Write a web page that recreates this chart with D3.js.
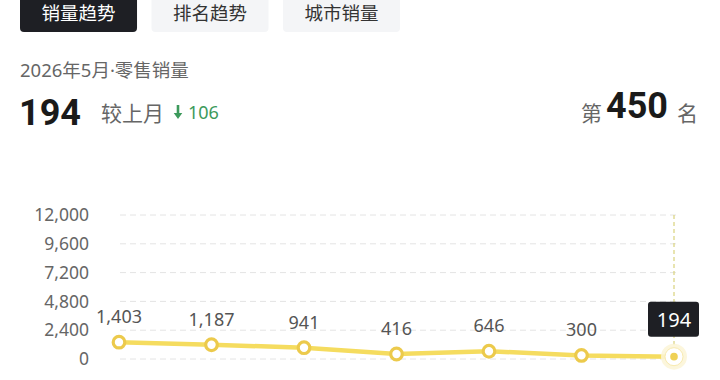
<!DOCTYPE html>
<html>
<head>
<meta charset="utf-8">
<script src="https://cdn.jsdelivr.net/npm/d3@7"></script>
<style>
  body { margin: 0; background: #fff; font-family: "Noto Sans CJK SC", "Noto Sans", sans-serif; }
</style>
</head>
<body>
<svg id="chart" width="720" height="380"></svg>
<script>
const tabs = ["销量趋势", "排名趋势", "城市销量"];
const months = ["2025-11", "2025-12", "2026-01", "2026-02", "2026-03", "2026-04", "2026-05"];
const sales = [1403, 1187, 941, 416, 646, 300, 194];
const yTicks = [0, 2400, 4800, 7200, 9600, 12000];
const subtitle = "2026年5月·零售销量";
const current = 194;
const change = 106;
const rank = 450;

const svg = d3.select("#chart");
const fontCJK = "Noto Sans CJK SC";

// tabs
const tabX = d3.scaleBand().domain(tabs).range([20, 400]).paddingInner(0.11);
const tab = svg.selectAll(".tab")
    .data(tabs)
    .enter().append("g")
    .attr("transform", d => "translate(" + tabX(d) + ",0)");
tab.append("rect")
    .attr("y", -6)
    .attr("width", tabX.bandwidth())
    .attr("height", 38)
    .attr("rx", 4)
    .attr("fill", (d, i) => i === 0 ? "#1e1f24" : "#f4f5f7");
tab.append("text")
    .attr("x", tabX.bandwidth() / 2)
    .attr("y", 20)
    .attr("text-anchor", "middle")
    .attr("font-family", fontCJK)
    .attr("font-size", 18.5)
    .attr("fill", (d, i) => i === 0 ? "#fff" : "#333")
    .text(d => d);

// header
svg.append("text")
    .attr("x", 20).attr("y", 77)
    .attr("font-family", "'Noto Sans', 'Noto Sans CJK SC'").attr("font-size", 18.5).attr("fill", "#666")
    .text(subtitle);

svg.append("text")
    .attr("x", 19).attr("y", 125)
    .attr("font-family", "Roboto").attr("font-weight", 700).attr("font-size", 36).attr("fill", "#1a1a1a")
    .text(current);

svg.append("text")
    .attr("x", 101).attr("y", 121)
    .attr("font-family", fontCJK).attr("font-size", 21).attr("fill", "#666")
    .text("较上月");

// down arrow
const ax = 178, ay = 105;
svg.append("path")
    .attr("d", `M${ax - 1.3},${ay} h2.6 v8 h3 l-4.3,6 l-4.3,-6 h3 z`)
    .attr("fill", "#3d9a5c");
svg.append("text")
    .attr("x", 188).attr("y", 119)
    .attr("font-family", "Noto Sans").attr("font-size", 18).attr("fill", "#3d9a5c")
    .text(change);

svg.append("text")
    .attr("x", 581).attr("y", 121)
    .attr("font-family", fontCJK).attr("font-size", 21).attr("fill", "#666")
    .text("第");
svg.append("text")
    .attr("x", 606).attr("y", 118)
    .attr("font-family", "Roboto").attr("font-weight", 700).attr("font-size", 36).attr("fill", "#1a1a1a")
    .text(rank);
svg.append("text")
    .attr("x", 677).attr("y", 121)
    .attr("font-family", fontCJK).attr("font-size", 21).attr("fill", "#666")
    .text("名");

// chart
const x = d3.scalePoint().domain(months).range([119, 674]);
const y = d3.scaleLinear().domain([0, 12000]).range([359, 215]);

const grid = svg.append("g");
grid.selectAll("line")
    .data(yTicks)
    .enter().append("line")
    .attr("x1", 120).attr("x2", 676)
    .attr("y1", d => y(d)).attr("y2", d => y(d))
    .attr("stroke", "#e4e4e4").attr("stroke-width", 1)
    .attr("stroke-dasharray", "6,4");

const yAxis = svg.append("g")
    .attr("transform", "translate(89,0)")
    .call(d3.axisLeft(y).tickValues(yTicks).tickSize(0).tickPadding(0).tickFormat(d3.format(",")));
yAxis.select(".domain").remove();
yAxis.selectAll("text")
    .attr("font-family", "Noto Sans").attr("font-size", 17.5).attr("fill", "#666");

// highlight line for the last month
const last = months[months.length - 1];
const lastVal = sales[sales.length - 1];
svg.append("line")
    .attr("x1", x(last)).attr("x2", x(last))
    .attr("y1", y(12000)).attr("y2", y(lastVal))
    .attr("stroke", "#d9d37c").attr("stroke-width", 1.2)
    .attr("stroke-dasharray", "4,3");

const line = d3.line()
    .x((d, i) => x(months[i]))
    .y(d => y(d));

svg.append("path")
    .datum(sales)
    .attr("d", line)
    .attr("fill", "none")
    .attr("stroke", "#f5dc5f")
    .attr("stroke-width", 4.5);

const pts = sales.map((v, i) => ({ m: months[i], v: v, last: i === sales.length - 1 }));

svg.selectAll(".halo")
    .data(pts.filter(d => d.last))
    .enter().append("circle")
    .attr("cx", d => x(d.m)).attr("cy", d => y(d.v))
    .attr("r", 13).attr("fill", "#fcf5d6").attr("opacity", 0.85);

svg.selectAll(".dot")
    .data(pts)
    .enter().append("circle")
    .attr("cx", d => x(d.m)).attr("cy", d => y(d.v))
    .attr("r", d => d.last ? 9 : 5.8)
    .attr("fill", "#fff")
    .attr("stroke", d => d.last ? "#f8eab0" : "#ecca4c")
    .attr("stroke-width", d => d.last ? 1 : 3.2);

svg.selectAll(".inner")
    .data(pts.filter(d => d.last))
    .enter().append("circle")
    .attr("cx", d => x(d.m)).attr("cy", d => y(d.v))
    .attr("r", 3.8).attr("fill", "#efd155");

svg.selectAll(".lbl")
    .data(pts.filter(d => !d.last))
    .enter().append("text")
    .attr("x", d => x(d.m)).attr("y", d => y(d.v) - 19)
    .attr("text-anchor", "middle")
    .attr("font-family", "Noto Sans").attr("font-size", 18).attr("fill", "#555")
    .text(d => d3.format(",")(d.v));

// tooltip
const tip = svg.append("g")
    .attr("transform", "translate(" + x(last) + "," + (y(lastVal) - 37) + ")");
tip.append("rect")
    .attr("x", -26).attr("y", -18).attr("width", 51).attr("height", 35)
    .attr("rx", 3).attr("fill", "#1e1f24");
tip.append("text")
    .attr("text-anchor", "middle").attr("y", 7)
    .attr("font-family", "Noto Sans").attr("font-size", 20).attr("fill", "#fff")
    .text(lastVal);
</script>
</body>
</html>
